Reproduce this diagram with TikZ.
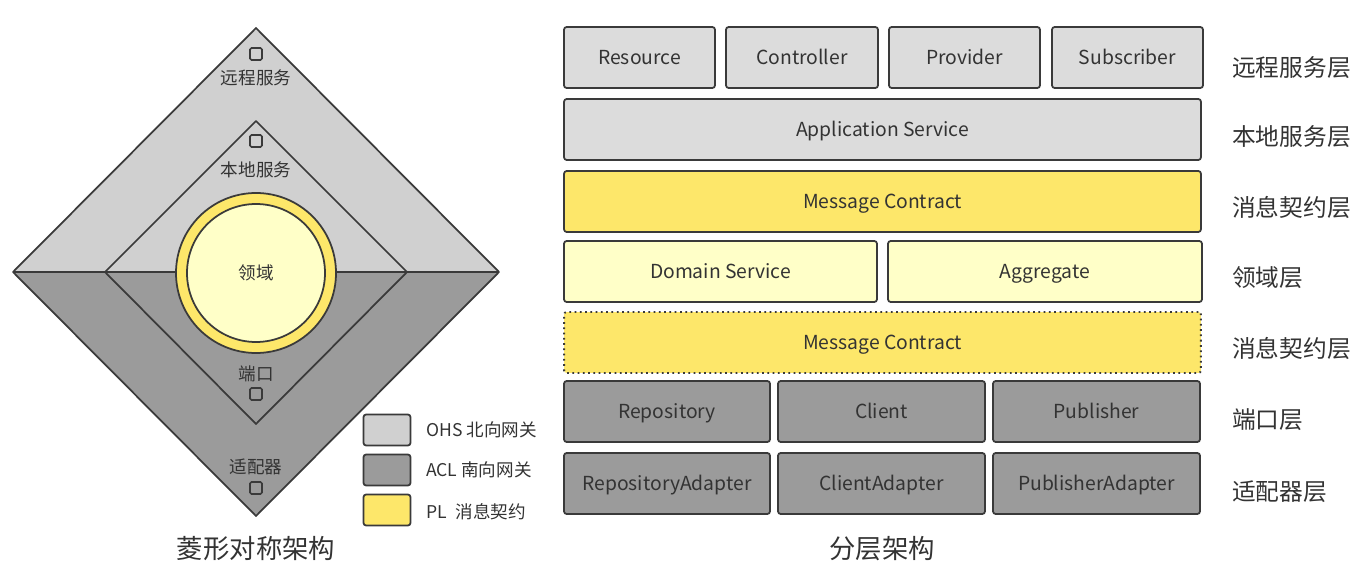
\documentclass[tikz,border=0pt]{standalone}
\usepackage{fontspec}
\setmainfont{Noto Sans CJK SC}
\usepackage{tikz}
\usetikzlibrary{arrows.meta,positioning,calc}

\definecolor{ohsgray}{HTML}{D0D0D0}
\definecolor{boxgray}{HTML}{DCDCDC}
\definecolor{aclgray}{HTML}{9B9B9B}
\definecolor{plyellow}{HTML}{FDE76A}
\definecolor{domyellow}{HTML}{FFFFC8}
\definecolor{inkgray}{HTML}{333333}
\definecolor{edgegray}{HTML}{3A3A3A}

\tikzset{
  layerbox/.style={draw=edgegray,line width=1pt,rounded corners=1.5pt,
    minimum height=1.22cm,font=\fontsize{11}{13}\selectfont,text=inkgray,inner sep=0pt,
    text height=1.6ex,text depth=0.2ex},
  remote/.style={layerbox,fill=boxgray},
  adapter/.style={layerbox,fill=aclgray},
  contract/.style={layerbox,fill=plyellow},
  domainbox/.style={layerbox,fill=domyellow},
  layername/.style={anchor=west,font=\fontsize{13.5}{15}\selectfont,text=inkgray},
  ringtext/.style={font=\fontsize{10}{12}\selectfont,text=inkgray},
  port/.style={draw=edgegray,line width=0.9pt,rounded corners=0.8pt,
    minimum size=0.24cm,inner sep=0pt},
  keybox/.style={draw=edgegray,line width=1pt,rounded corners=1.5pt,
    minimum width=0.94cm,minimum height=0.62cm,inner sep=0pt},
  keytext/.style={anchor=west,font=\fontsize{10}{12}\selectfont,text=inkgray},
  caption/.style={font=\fontsize{15}{17}\selectfont,text=inkgray}
}

\begin{document}
\begin{tikzpicture}[x=0.02cm,y=-0.02cm]
  \useasboundingbox (0,0) rectangle (1367,574);

  % diamond corners
  \coordinate (OT) at (256,28);
  \coordinate (OL) at (13,272);
  \coordinate (OR) at (499,272);
  \coordinate (OB) at (256,516);
  \coordinate (IT) at (256,121);
  \coordinate (IL) at (105,272);
  \coordinate (IR) at (407,272);
  \coordinate (IB) at (256,424);
  \coordinate (C) at (256,273);

  % halves
  \fill[ohsgray] (OL) -- (OT) -- (OR) -- cycle;
  \fill[aclgray] (OL) -- (OB) -- (OR) -- cycle;
  \draw[edgegray,line width=1pt] (OL) -- (OR);
  \draw[edgegray,line width=1pt,line join=round] (OL) -- (OT) -- (OR) -- (OB) -- cycle;
  \draw[edgegray,line width=1pt,line join=round] (IL) -- (IT) -- (IR) -- (IB) -- cycle;

  % domain ring
  \draw[edgegray,line width=1pt,fill=plyellow] (C) circle[radius=80];
  \draw[edgegray,line width=1pt,fill=domyellow] (C) circle[radius=69];

  % ring labels
  \node[port] (p1) at (256,54) {};
  \node[ringtext] (remote) at (256,78) {远程服务};
  \node[port] (p2) at (256,141) {};
  \node[ringtext] (local) at (256,170) {本地服务};
  \node[ringtext] (dom) at (C) {领域};
  \node[ringtext] (portlbl) at (256,374) {端口};
  \node[port] (p3) at (256,394) {};
  \node[ringtext] (adp) at (256,467) {适配器};
  \node[port] (p4) at (256,488) {};

  % legend
  \node[keybox,fill=ohsgray] (k1) at (387,430) {};
  \node[keybox,fill=aclgray] (k2) at (387,470) {};
  \node[keybox,fill=plyellow] (k3) at (387,510) {};
  \node[keytext] at (420,430) {OHS 北向网关};
  \node[keytext] at (420,470) {ACL 南向网关};
  \node[keytext] at (420,512) {PL\enspace 消息契约};

  \node[caption] (left) at (256,549) {菱形对称架构};

  % layered side
  \node[remote,minimum width=3.02cm] (res) at (639.5,57.5) {Resource};
  \node[remote,minimum width=3.04cm] (ctl) at (802,57.5) {Controller};
  \node[remote,minimum width=3.02cm] (prv) at (964.5,57.5) {Provider};
  \node[remote,minimum width=3.02cm] (sub) at (1127.5,57.5) {Subscriber};

  \node[remote,minimum width=12.74cm] (app) at (882.5,129.5) {Application Service};
  \node[contract,minimum width=12.74cm] (msg1) at (882.5,201.5) {Message Contract};

  \node[domainbox,minimum width=6.26cm] (dsv) at (720.5,271.5) {Domain Service};
  \node[domainbox,minimum width=6.28cm] (agg) at (1045,271.5) {Aggregate};

  \node[contract,dotted,line width=1.1pt,minimum width=12.74cm] (msg2) at (882.5,342.5) {Message Contract};

  \node[adapter,minimum width=4.12cm] (repo) at (667,411.5) {Repository};
  \node[adapter,minimum width=4.14cm] (cli) at (881.5,411.5) {Client};
  \node[adapter,minimum width=4.14cm] (pub) at (1096.5,411.5) {Publisher};

  \node[adapter,minimum width=4.12cm] (repoa) at (667,483.5) {RepositoryAdapter};
  \node[adapter,minimum width=4.14cm] (clia) at (881.5,483.5) {ClientAdapter};
  \node[adapter,minimum width=4.14cm] (puba) at (1096.5,483.5) {PublisherAdapter};

  % layer names
  \node[layername] at (1226,68) {远程服务层};
  \node[layername] at (1226,137) {本地服务层};
  \node[layername] at (1226,207) {消息契约层};
  \node[layername] at (1226,278) {领域层};
  \node[layername] at (1226,348) {消息契约层};
  \node[layername] at (1226,420) {端口层};
  \node[layername] at (1226,492) {适配器层};

  \node[caption] (right) at (882,549) {分层架构};
\end{tikzpicture}
\end{document}
